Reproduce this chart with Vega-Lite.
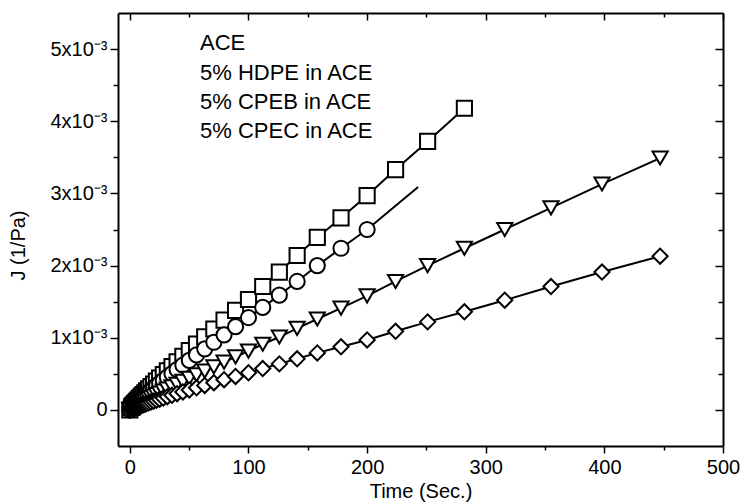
{
  "$schema": "https://vega.github.io/schema/vega-lite/v6.json",
  "width": 605,
  "height": 433,
  "autosize": {"type": "none"},
  "padding": {"left": 118, "top": 13, "right": 20, "bottom": 58},
  "background": "white",
  "config": {
    "font": "Liberation Sans",
    "view": {"stroke": null},
    "axis": {
      "grid": false,
      "domainColor": "black",
      "domainWidth": 2,
      "tickColor": "black",
      "tickWidth": 1.5,
      "labelColor": "black",
      "titleColor": "black",
      "labelFont": "Liberation Sans",
      "titleFont": "Liberation Sans",
      "labelFontSize": 20,
      "titleFontSize": 20,
      "titleFontWeight": "normal"
    },
    "legend": {
      "labelFont": "Liberation Sans",
      "labelFontSize": 22,
      "labelColor": "black",
      "labelLimit": 400,
      "symbolStrokeWidth": 2,
      "symbolStrokeColor": "black",
      "symbolFillColor": "white",
      "symbolOpacity": 1,
      "symbolSize": 200,
      "padding": 0
    }
  },
  "data": {
    "values": [
      {"s":"ACE","t":0,"J":0},
      {"s":"ACE","t":1.58,"J":0.037e-3},{"s":"ACE","t":1.78,"J":0.041e-3},{"s":"ACE","t":2.0,"J":0.045e-3},{"s":"ACE","t":2.24,"J":0.050e-3},
      {"s":"ACE","t":2.51,"J":0.056e-3},{"s":"ACE","t":2.82,"J":0.062e-3},{"s":"ACE","t":3.16,"J":0.068e-3},{"s":"ACE","t":3.55,"J":0.076e-3},
      {"s":"ACE","t":3.98,"J":0.084e-3},{"s":"ACE","t":4.47,"J":0.093e-3},{"s":"ACE","t":5.01,"J":0.103e-3},{"s":"ACE","t":5.62,"J":0.115e-3},
      {"s":"ACE","t":6.31,"J":0.127e-3},{"s":"ACE","t":7.08,"J":0.141e-3},{"s":"ACE","t":7.94,"J":0.157e-3},{"s":"ACE","t":8.91,"J":0.174e-3},
      {"s":"ACE","t":10.0,"J":0.193e-3},{"s":"ACE","t":11.2,"J":0.214e-3},{"s":"ACE","t":12.6,"J":0.237e-3},{"s":"ACE","t":14.1,"J":0.263e-3},
      {"s":"ACE","t":15.8,"J":0.291e-3},{"s":"ACE","t":17.8,"J":0.323e-3},{"s":"ACE","t":20.0,"J":0.359e-3},{"s":"ACE","t":22.4,"J":0.398e-3},
      {"s":"ACE","t":25.1,"J":0.441e-3},{"s":"ACE","t":28.2,"J":0.489e-3},{"s":"ACE","t":31.6,"J":0.543e-3},{"s":"ACE","t":35.5,"J":0.602e-3},
      {"s":"ACE","t":39.8,"J":0.668e-3},{"s":"ACE","t":44.7,"J":0.741e-3},{"s":"ACE","t":50.1,"J":0.822e-3},{"s":"ACE","t":56.2,"J":0.911e-3},
      {"s":"ACE","t":63.1,"J":1.011e-3},{"s":"ACE","t":70.8,"J":1.121e-3},{"s":"ACE","t":79.4,"J":1.244e-3},{"s":"ACE","t":89.1,"J":1.379e-3},
      {"s":"ACE","t":100,"J":1.53e-3},{"s":"ACE","t":112,"J":1.71e-3},{"s":"ACE","t":126,"J":1.91e-3},{"s":"ACE","t":141,"J":2.14e-3},
      {"s":"ACE","t":158,"J":2.39e-3},{"s":"ACE","t":178,"J":2.66e-3},{"s":"ACE","t":200,"J":2.97e-3},{"s":"ACE","t":224,"J":3.33e-3},
      {"s":"ACE","t":251,"J":3.72e-3},{"s":"ACE","t":282,"J":4.18e-3},

      {"s":"5% HDPE in ACE","t":0,"J":0},
      {"s":"5% HDPE in ACE","t":1.58,"J":0.031e-3},{"s":"5% HDPE in ACE","t":1.78,"J":0.034e-3},{"s":"5% HDPE in ACE","t":2.0,"J":0.038e-3},{"s":"5% HDPE in ACE","t":2.24,"J":0.042e-3},
      {"s":"5% HDPE in ACE","t":2.51,"J":0.046e-3},{"s":"5% HDPE in ACE","t":2.82,"J":0.052e-3},{"s":"5% HDPE in ACE","t":3.16,"J":0.057e-3},{"s":"5% HDPE in ACE","t":3.55,"J":0.063e-3},
      {"s":"5% HDPE in ACE","t":3.98,"J":0.070e-3},{"s":"5% HDPE in ACE","t":4.47,"J":0.078e-3},{"s":"5% HDPE in ACE","t":5.01,"J":0.087e-3},{"s":"5% HDPE in ACE","t":5.62,"J":0.096e-3},
      {"s":"5% HDPE in ACE","t":6.31,"J":0.106e-3},{"s":"5% HDPE in ACE","t":7.08,"J":0.118e-3},{"s":"5% HDPE in ACE","t":7.94,"J":0.131e-3},{"s":"5% HDPE in ACE","t":8.91,"J":0.145e-3},
      {"s":"5% HDPE in ACE","t":10.0,"J":0.161e-3},{"s":"5% HDPE in ACE","t":11.2,"J":0.179e-3},{"s":"5% HDPE in ACE","t":12.6,"J":0.198e-3},{"s":"5% HDPE in ACE","t":14.1,"J":0.220e-3},
      {"s":"5% HDPE in ACE","t":15.8,"J":0.244e-3},{"s":"5% HDPE in ACE","t":17.8,"J":0.270e-3},{"s":"5% HDPE in ACE","t":20.0,"J":0.300e-3},{"s":"5% HDPE in ACE","t":22.4,"J":0.333e-3},
      {"s":"5% HDPE in ACE","t":25.1,"J":0.369e-3},{"s":"5% HDPE in ACE","t":28.2,"J":0.409e-3},{"s":"5% HDPE in ACE","t":31.6,"J":0.454e-3},{"s":"5% HDPE in ACE","t":35.5,"J":0.504e-3},
      {"s":"5% HDPE in ACE","t":39.8,"J":0.559e-3},{"s":"5% HDPE in ACE","t":44.7,"J":0.620e-3},{"s":"5% HDPE in ACE","t":50.1,"J":0.687e-3},{"s":"5% HDPE in ACE","t":56.2,"J":0.762e-3},
      {"s":"5% HDPE in ACE","t":63.1,"J":0.846e-3},{"s":"5% HDPE in ACE","t":70.8,"J":0.938e-3},{"s":"5% HDPE in ACE","t":79.4,"J":1.040e-3},{"s":"5% HDPE in ACE","t":89.1,"J":1.154e-3},
      {"s":"5% HDPE in ACE","t":100,"J":1.28e-3},{"s":"5% HDPE in ACE","t":112,"J":1.42e-3},{"s":"5% HDPE in ACE","t":126,"J":1.59e-3},{"s":"5% HDPE in ACE","t":141,"J":1.78e-3},
      {"s":"5% HDPE in ACE","t":158,"J":2.00e-3},{"s":"5% HDPE in ACE","t":178,"J":2.24e-3},{"s":"5% HDPE in ACE","t":200,"J":2.50e-3},{"s":"5% HDPE in ACE","t":243,"J":3.09e-3},

      {"s":"5% CPEB in ACE","t":0,"J":0},
      {"s":"5% CPEB in ACE","t":1.58,"J":0.0196e-3},{"s":"5% CPEB in ACE","t":1.78,"J":0.0217e-3},{"s":"5% CPEB in ACE","t":2.0,"J":0.0240e-3},{"s":"5% CPEB in ACE","t":2.24,"J":0.0267e-3},
      {"s":"5% CPEB in ACE","t":2.51,"J":0.0296e-3},{"s":"5% CPEB in ACE","t":2.82,"J":0.0328e-3},{"s":"5% CPEB in ACE","t":3.16,"J":0.0364e-3},{"s":"5% CPEB in ACE","t":3.55,"J":0.0403e-3},
      {"s":"5% CPEB in ACE","t":3.98,"J":0.0448e-3},{"s":"5% CPEB in ACE","t":4.47,"J":0.0497e-3},{"s":"5% CPEB in ACE","t":5.01,"J":0.0551e-3},{"s":"5% CPEB in ACE","t":5.62,"J":0.0611e-3},
      {"s":"5% CPEB in ACE","t":6.31,"J":0.0678e-3},{"s":"5% CPEB in ACE","t":7.08,"J":0.0752e-3},{"s":"5% CPEB in ACE","t":7.94,"J":0.0834e-3},{"s":"5% CPEB in ACE","t":8.91,"J":0.0925e-3},
      {"s":"5% CPEB in ACE","t":10.0,"J":0.103e-3},{"s":"5% CPEB in ACE","t":11.2,"J":0.114e-3},{"s":"5% CPEB in ACE","t":12.6,"J":0.126e-3},{"s":"5% CPEB in ACE","t":14.1,"J":0.140e-3},
      {"s":"5% CPEB in ACE","t":15.8,"J":0.155e-3},{"s":"5% CPEB in ACE","t":17.8,"J":0.172e-3},{"s":"5% CPEB in ACE","t":20.0,"J":0.191e-3},{"s":"5% CPEB in ACE","t":22.4,"J":0.212e-3},
      {"s":"5% CPEB in ACE","t":25.1,"J":0.235e-3},{"s":"5% CPEB in ACE","t":28.2,"J":0.261e-3},{"s":"5% CPEB in ACE","t":31.6,"J":0.289e-3},{"s":"5% CPEB in ACE","t":35.5,"J":0.321e-3},
      {"s":"5% CPEB in ACE","t":39.8,"J":0.356e-3},{"s":"5% CPEB in ACE","t":44.7,"J":0.395e-3},{"s":"5% CPEB in ACE","t":50.1,"J":0.438e-3},{"s":"5% CPEB in ACE","t":56.2,"J":0.485e-3},
      {"s":"5% CPEB in ACE","t":63.1,"J":0.538e-3},{"s":"5% CPEB in ACE","t":70.8,"J":0.597e-3},{"s":"5% CPEB in ACE","t":79.4,"J":0.662e-3},{"s":"5% CPEB in ACE","t":89.1,"J":0.735e-3},
      {"s":"5% CPEB in ACE","t":100,"J":0.815e-3},{"s":"5% CPEB in ACE","t":112,"J":0.91e-3},{"s":"5% CPEB in ACE","t":126,"J":1.01e-3},{"s":"5% CPEB in ACE","t":141,"J":1.13e-3},
      {"s":"5% CPEB in ACE","t":158,"J":1.26e-3},{"s":"5% CPEB in ACE","t":178,"J":1.41e-3},{"s":"5% CPEB in ACE","t":200,"J":1.58e-3},{"s":"5% CPEB in ACE","t":224,"J":1.78e-3},
      {"s":"5% CPEB in ACE","t":251,"J":2.00e-3},{"s":"5% CPEB in ACE","t":282,"J":2.24e-3},{"s":"5% CPEB in ACE","t":316,"J":2.50e-3},{"s":"5% CPEB in ACE","t":355,"J":2.80e-3},
      {"s":"5% CPEB in ACE","t":398,"J":3.13e-3},{"s":"5% CPEB in ACE","t":447,"J":3.49e-3},

      {"s":"5% CPEC in ACE","t":0,"J":0},
      {"s":"5% CPEC in ACE","t":1.58,"J":0.0124e-3},{"s":"5% CPEC in ACE","t":1.78,"J":0.0137e-3},{"s":"5% CPEC in ACE","t":2.0,"J":0.0152e-3},{"s":"5% CPEC in ACE","t":2.24,"J":0.0168e-3},
      {"s":"5% CPEC in ACE","t":2.51,"J":0.0187e-3},{"s":"5% CPEC in ACE","t":2.82,"J":0.0208e-3},{"s":"5% CPEC in ACE","t":3.16,"J":0.0230e-3},{"s":"5% CPEC in ACE","t":3.55,"J":0.0255e-3},
      {"s":"5% CPEC in ACE","t":3.98,"J":0.0283e-3},{"s":"5% CPEC in ACE","t":4.47,"J":0.0314e-3},{"s":"5% CPEC in ACE","t":5.01,"J":0.0348e-3},{"s":"5% CPEC in ACE","t":5.62,"J":0.0386e-3},
      {"s":"5% CPEC in ACE","t":6.31,"J":0.0428e-3},{"s":"5% CPEC in ACE","t":7.08,"J":0.0475e-3},{"s":"5% CPEC in ACE","t":7.94,"J":0.0527e-3},{"s":"5% CPEC in ACE","t":8.91,"J":0.0585e-3},
      {"s":"5% CPEC in ACE","t":10.0,"J":0.0648e-3},{"s":"5% CPEC in ACE","t":11.2,"J":0.0719e-3},{"s":"5% CPEC in ACE","t":12.6,"J":0.0798e-3},{"s":"5% CPEC in ACE","t":14.1,"J":0.0885e-3},
      {"s":"5% CPEC in ACE","t":15.8,"J":0.0981e-3},{"s":"5% CPEC in ACE","t":17.8,"J":0.109e-3},{"s":"5% CPEC in ACE","t":20.0,"J":0.121e-3},{"s":"5% CPEC in ACE","t":22.4,"J":0.134e-3},
      {"s":"5% CPEC in ACE","t":25.1,"J":0.149e-3},{"s":"5% CPEC in ACE","t":28.2,"J":0.165e-3},{"s":"5% CPEC in ACE","t":31.6,"J":0.183e-3},{"s":"5% CPEC in ACE","t":35.5,"J":0.203e-3},
      {"s":"5% CPEC in ACE","t":39.8,"J":0.225e-3},{"s":"5% CPEC in ACE","t":44.7,"J":0.249e-3},{"s":"5% CPEC in ACE","t":50.1,"J":0.277e-3},{"s":"5% CPEC in ACE","t":56.2,"J":0.307e-3},
      {"s":"5% CPEC in ACE","t":63.1,"J":0.340e-3},{"s":"5% CPEC in ACE","t":70.8,"J":0.377e-3},{"s":"5% CPEC in ACE","t":79.4,"J":0.419e-3},{"s":"5% CPEC in ACE","t":89.1,"J":0.464e-3},
      {"s":"5% CPEC in ACE","t":100,"J":0.515e-3},{"s":"5% CPEC in ACE","t":112,"J":0.573e-3},{"s":"5% CPEC in ACE","t":126,"J":0.638e-3},{"s":"5% CPEC in ACE","t":141,"J":0.708e-3},
      {"s":"5% CPEC in ACE","t":158,"J":0.79e-3},{"s":"5% CPEC in ACE","t":178,"J":0.875e-3},{"s":"5% CPEC in ACE","t":200,"J":0.97e-3},{"s":"5% CPEC in ACE","t":224,"J":1.09e-3},
      {"s":"5% CPEC in ACE","t":251,"J":1.22e-3},{"s":"5% CPEC in ACE","t":282,"J":1.36e-3},{"s":"5% CPEC in ACE","t":316,"J":1.52e-3},{"s":"5% CPEC in ACE","t":355,"J":1.71e-3},
      {"s":"5% CPEC in ACE","t":398,"J":1.91e-3},{"s":"5% CPEC in ACE","t":447,"J":2.13e-3}
    ]
  },
  "layer": [
    {
      "encoding": {
        "x": {
          "field": "t", "type": "quantitative",
          "scale": {"domain": [-10, 500], "nice": false, "zero": false},
          "axis": {
            "orient": "bottom",
            "title": "Time (Sec.)",
            "values": [0, 50, 100, 150, 200, 250, 300, 350, 400, 450, 500],
            "labelExpr": "datum.value % 100 == 0 ? datum.label : ''",
            "tickSize": {"condition": {"test": "datum.value % 100 == 0", "value": 7}, "value": 4},
            "labelPadding": 4,
            "titlePadding": 4,
            "labelFlush": false,
            "labelOverlap": false
          }
        },
        "y": {
          "field": "J", "type": "quantitative",
          "scale": {"domain": [-0.0005, 0.0055], "nice": false, "zero": false},
          "axis": {
            "orient": "left",
            "title": "J (1/Pa)",
            "titleY": 232,
            "values": [0, 0.0005, 0.001, 0.0015, 0.002, 0.0025, 0.003, 0.0035, 0.004, 0.0045, 0.005],
            "labelExpr": "round(datum.value*2000) % 2 == 0 ? (datum.value == 0 ? '0' : round(datum.value*1000) + 'x10⁻³') : ''",
            "tickSize": {"condition": {"test": "round(datum.value*2000) % 2 == 0", "value": 8}, "value": 5},
            "labelPadding": 3,
            "titlePadding": 21,
            "labelFlush": false,
            "labelOverlap": false
          }
        }
      },
      "layer": [
        {
          "mark": {"type": "line", "stroke": "black", "strokeWidth": 2},
          "encoding": {"detail": {"field": "s"}}
        },
        {
          "transform": [{"filter": "!(datum.s == '5% HDPE in ACE' && datum.t > 210)"}],
          "mark": {"type": "point", "filled": false, "fill": "white", "fillOpacity": 1, "stroke": "black", "strokeWidth": 2, "size": 230},
          "encoding": {
            "shape": {
              "field": "s", "type": "nominal",
              "scale": {
                "domain": ["ACE", "5% HDPE in ACE", "5% CPEB in ACE", "5% CPEC in ACE"],
                "range": ["square", "circle", "triangle-down", "diamond"]
              },
              "legend": {
                "title": null,
                "orient": "none",
                "legendX": 38,
                "legendY": 19,
                "labelOffset": 22,
                "rowPadding": 6,
                "symbolOpacity": 1,
                "symbolStrokeColor": "black",
                "symbolFillColor": "white",
                "symbolStrokeWidth": 2,
                "symbolSize": 200
              }
            }
          }
        }
      ]
    },
    {
      "mark": {"type": "point", "fillOpacity": 0, "strokeOpacity": 0},
      "encoding": {
        "x": {
          "field": "t", "type": "quantitative",
          "scale": {"domain": [-10, 500], "nice": false, "zero": false},
          "axis": {
            "orient": "top", "title": null, "labels": false,
            "values": [0, 50, 100, 150, 200, 250, 300, 350, 400, 450, 500],
            "tickSize": {"condition": {"test": "datum.value % 100 == 0", "value": -7}, "value": -4}
          }
        },
        "y": {
          "field": "J", "type": "quantitative",
          "scale": {"domain": [-0.0005, 0.0055], "nice": false, "zero": false},
          "axis": {
            "orient": "right", "title": null, "labels": false,
            "values": [0, 0.0005, 0.001, 0.0015, 0.002, 0.0025, 0.003, 0.0035, 0.004, 0.0045, 0.005],
            "tickSize": {"condition": {"test": "round(datum.value*2000) % 2 == 0", "value": -8}, "value": -5}
          }
        }
      }
    }
  ],
  "resolve": {"scale": {"x": "independent", "y": "independent"}}
}
